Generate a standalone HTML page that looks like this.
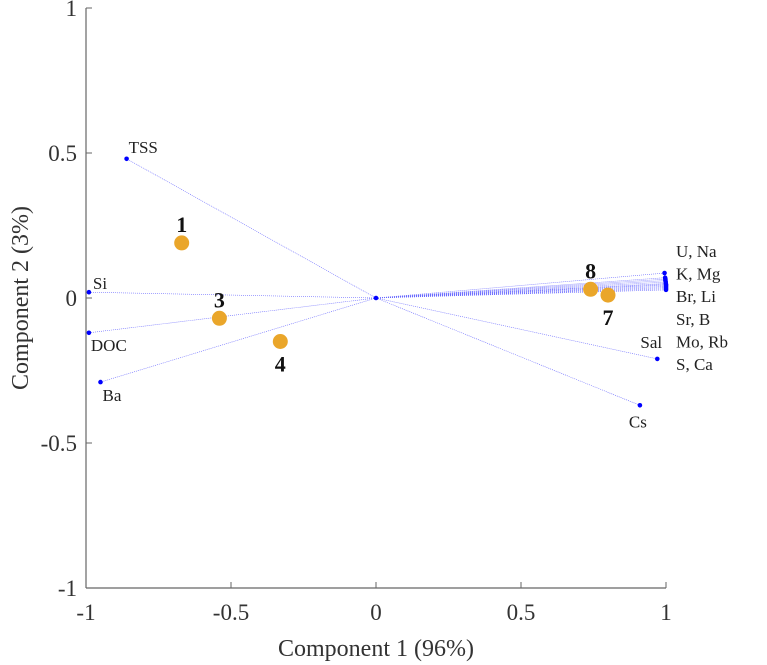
<!DOCTYPE html>
<html><head><meta charset="utf-8"><style>
body{margin:0;background:#fff}
svg{display:block;font-family:"Liberation Serif",serif}
</style></head><body>
<svg id="c" width="767" height="665"></svg>
<script>
const loadNames=["TSS","Si","DOC","Ba","Sal","Cs","U","Na","K","Mg","Br","Li","Sr","B","Mo","Rb","S","Ca"];
const loadX=[-0.86,-0.99,-0.99,-0.95,0.97,0.91,0.995,0.997,0.998,0.998,0.999,0.999,1.0,1.0,1.0,1.0,1.0,1.0];
const loadY=[0.48,0.02,-0.12,-0.29,-0.21,-0.37,0.086,0.07,0.065,0.06,0.055,0.05,0.047,0.044,0.04,0.036,0.032,0.028];
const scoreNames=["1","3","4","8","7"];
const scoreX=[-0.67,-0.54,-0.33,0.74,0.80];
const scoreY=[0.19,-0.07,-0.15,0.03,0.01];
const ticks=[-1,-0.5,0,0.5,1];
const tickLabels=["-1","-0.5","0","0.5","1"];
const rightList=["U, Na","K, Mg","Br, Li","Sr, B","Mo, Rb","S, Ca"];
const NS="http://www.w3.org/2000/svg";
const svg=document.getElementById('c');
const X=v=>376+v*290, Y=v=>298-v*290;
function mk(t,a,txt){const e=document.createElementNS(NS,t);for(const k in a)e.setAttribute(k,a[k]);if(txt!==undefined)e.textContent=txt;svg.appendChild(e);return e;}
let e;
e=mk('line',{x1:86,y1:8,x2:86,y2:588,stroke:'#666','stroke-width':1.2});


e=mk('line',{x1:86,y1:588,x2:666,y2:588,stroke:'#666','stroke-width':1.2});


ticks.forEach((t,i)=>{
 e=mk('line',{x1:X(t),y1:588,x2:X(t),y2:582,stroke:'#666'});
 
 
 e=mk('line',{x1:86,y1:Y(t),x2:92,y2:Y(t),stroke:'#666'});
 
 
 e=mk('text',{x:X(t),y:620,'font-size':23,'text-anchor':'middle',fill:'#333'},tickLabels[i]);
 
 
 e=mk('text',{x:77,y:Y(t)+8,'font-size':23,'text-anchor':'end',fill:'#333'},tickLabels[i]);
 
 
});
e=mk('text',{x:376,y:656,'font-size':24,'text-anchor':'middle',fill:'#333'},'Component 1 (96%)');


e=mk('text',{x:0,y:0,'font-size':24,'text-anchor':'middle',fill:'#333',transform:'translate(28,298) rotate(-90)'},'Component 2 (3%)');


loadX.forEach((v,i)=>{
 e=mk('line',{x1:X(0),y1:Y(0),x2:X(v),y2:Y(loadY[i]),stroke:'#66f','stroke-width':0.6,'stroke-dasharray':'1 1'});
 
 
});
e=mk('circle',{cx:X(0),cy:Y(0),r:2.3,fill:'#00f'});


const off={TSS:[2,-6,'start'],Si:[4,-3,'start'],DOC:[2,18,'start'],Ba:[2,19,'start'],Sal:[-6,-11,'middle'],Cs:[-2,22,'middle']};
loadX.forEach((v,i)=>{
 e=mk('circle',{cx:X(v),cy:Y(loadY[i]),r:2.3,fill:'#00f'});
 
 
 const o=off[loadNames[i]];
 if(o){e=mk('text',{x:X(v)+o[0],y:Y(loadY[i])+o[1],'font-size':17,'text-anchor':o[2],fill:'#222'},loadNames[i]);
 
 }
});
rightList.forEach((s,i)=>{
 e=mk('text',{x:676,y:257+i*22.6,'font-size':17,fill:'#222'},s);
 
 
});
const below={"4":1,"7":1};
scoreX.forEach((v,i)=>{
 e=mk('circle',{cx:X(v),cy:Y(scoreY[i]),r:7.5,fill:'#eaa62a'});
 
 
 e=mk('text',{x:X(v),y:Y(scoreY[i])+(below[scoreNames[i]]?30:-11),'font-size':22,'font-weight':'bold','text-anchor':'middle',fill:'#111'},scoreNames[i]);
 
 
});
</script>
</body></html>
